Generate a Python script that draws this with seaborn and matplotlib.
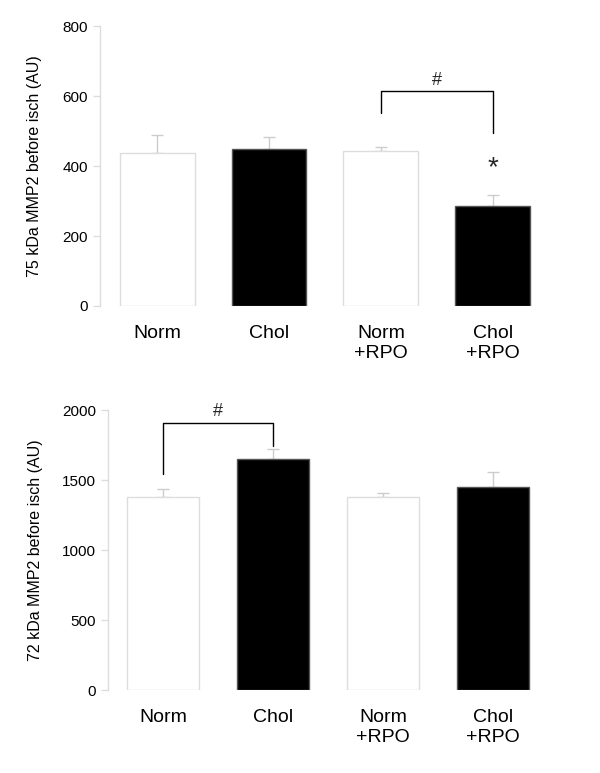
import matplotlib
matplotlib.use("Agg")
import matplotlib.pyplot as plt
import seaborn as sns
import pandas as pd

# Data
groups = ["Norm", "Chol", "Norm\n+RPO", "Chol\n+RPO"]
bar_colors = ["white", "black", "white", "black"]
edge_colors = ["#dddddd", "#555555", "#dddddd", "#555555"]

mmp75_mean = [437, 449, 443, 286]
mmp75_err = [52, 34, 11, 31]

mmp72_mean = [1379, 1650, 1379, 1450]
mmp72_err = [57, 71, 28, 107]

sns.set_theme(style="white")
plt.rcParams["font.family"] = ["Liberation Sans", "DejaVu Sans"]

fig = plt.figure(figsize=(6, 7.73), dpi=100)
ax1 = fig.add_axes([100 / 600, 1 - 306 / 773, 460 / 600, 280 / 773])
ax2 = fig.add_axes([108 / 600, 1 - 690 / 773, 451 / 600, 280 / 773])


def draw_panel(ax, means, errs, width, ylabel, yticks, xlim, pad):
    df = pd.DataFrame({"group": groups, "value": means})
    sns.barplot(data=df, x="group", y="value", hue="group", palette=bar_colors,
                width=width, legend=False, ax=ax, linewidth=1)
    for patch, ec in zip(ax.patches, edge_colors):
        patch.set_edgecolor(ec)
    ax.errorbar(range(len(means)), means, yerr=[[0] * len(means), errs],
                fmt="none", ecolor="#cccccc", elinewidth=1, capsize=4,
                capthick=1, zorder=0)
    ax.set_ylim(yticks[0], yticks[-1])
    ax.set_yticks(yticks)
    ax.set_xlim(*xlim)
    ax.set_xlabel("")
    ax.set_ylabel(ylabel, fontsize=11.5, color="black", labelpad=pad)
    for s in ["top", "right", "bottom"]:
        ax.spines[s].set_visible(False)
    ax.spines["left"].set_color("#dddddd")
    ax.spines["left"].set_linewidth(1)
    ax.tick_params(axis="y", which="major", left=True, length=5, width=1,
                   color="#dddddd", labelsize=11, labelcolor="black")
    ax.tick_params(axis="x", bottom=False, labelsize=14, labelcolor="black", pad=8)


draw_panel(ax1, mmp75_mean, mmp75_err, 0.67,
           "75 kDa MMP2 before isch (AU)", [0, 200, 400, 600, 800], (-0.51, 3.6), 15)
draw_panel(ax2, mmp72_mean, mmp72_err, 0.66,
           "72 kDa MMP2 before isch (AU)", [0, 500, 1000, 1500, 2000], (-0.5, 3.6), 14)

# significance brackets
ax1.plot([2, 2, 3, 3], [551, 614, 614, 494], color="black", lw=1, clip_on=False)
ax1.text(2.5, 644, "#", ha="center", va="center", fontsize=13)
ax1.text(3, 395, "*", ha="center", va="center", fontsize=20)

ax2.plot([0, 0, 1, 1], [1543, 1907, 1907, 1743], color="black", lw=1, clip_on=False)
ax2.text(0.5, 1990, "#", ha="center", va="center", fontsize=13)

fig.savefig("out.png", dpi=100)
